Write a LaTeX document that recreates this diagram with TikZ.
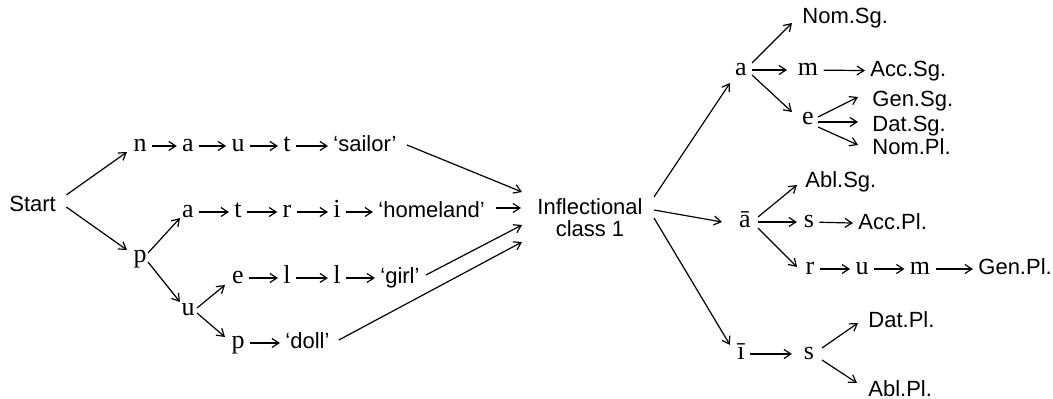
\documentclass[tikz,border=0pt]{standalone}
\usepackage{fontspec}
\setmainfont{Liberation Serif}
\newfontfamily\sansf{Liberation Sans}
\usetikzlibrary{arrows.meta}
\begin{document}
\begin{tikzpicture}[x=0.5pt,y=-0.5pt,
  lt/.style={font=\fontsize{13}{13}\selectfont, inner sep=0pt, text height=6pt, text depth=0pt, anchor=base},
  sf/.style={font=\sansf\fontsize{11}{11}\selectfont, inner sep=0pt, text height=6pt, text depth=0pt, anchor=base west},
  arr/.style={-{Straight Barb[length=3.5pt,width=4.5pt]}, line width=0.6pt},
  ch/.style={arr, shorten <=2.5pt, shorten >=2.5pt}]
\useasboundingbox (0,0) rectangle (1053,399);
% left part
\node[sf] (start) at (9,212) {Start};
\node[lt] (n1) at (140,152) {n};
\node[lt] (a1) at (188,152) {a};
\node[lt] (u1) at (238,152) {u};
\node[lt] (t1) at (287,152) {t};
\node[sf] (sailor) at (333,152) {‘sailor’};
\node[lt] (p1) at (140,263) {p};
\node[lt] (a2) at (188,218) {a};
\node[lt] (t2) at (238,218) {t};
\node[lt] (r2) at (287,218) {r};
\node[lt] (i2) at (337,218) {i};
\node[sf] (home) at (378,218) {‘homeland’};
\node[lt] (u3) at (188,316) {u};
\node[lt] (e3) at (238,284) {e};
\node[lt] (l3) at (287,284) {l};
\node[lt] (l4) at (337,284) {l};
\node[sf] (girl) at (380,284) {‘girl’};
\node[lt] (p4) at (238,349) {p};
\node[sf] (doll) at (285,349) {‘doll’};
\node[font=\sansf\fontsize{11}{11}\selectfont, align=center, inner sep=0pt] (infl) at (590,218) {Inflectional\\class 1};
% right part
\node[lt] (ra) at (741,76) {a};
\node[sf] (nomsg) at (802,24) {Nom.Sg.};
\node[lt] (rm) at (808,76) {m};
\node[sf] (accsg) at (870,77) {Acc.Sg.};
\node[lt] (re) at (808,125) {e};
\node[sf] (gensg) at (872,107) {Gen.Sg.};
\node[sf] (datsg) at (872,132) {Dat.Sg.};
\node[sf] (nompl) at (872,155) {Nom.Pl.};
\node[lt] (rab) at (745,228) {ā};
\node[sf] (ablsg) at (805,188) {Abl.Sg.};
\node[lt] (rs) at (809,228) {s};
\node[sf] (accpl) at (858,230) {Acc.Pl.};
\node[lt] (rr) at (810,275) {r};
\node[lt] (ru) at (862,275) {u};
\node[lt] (rm2) at (920,275) {m};
\node[sf] (genpl) at (978,275) {Gen.Pl.};
\node[lt] (ri) at (741,360) {ī};
\node[lt] (rs2) at (809,360) {s};
\node[sf] (datpl) at (868,328) {Dat.Pl.};
\node[sf] (ablpl) at (868,397) {Abl.Pl.};
% edges left
\draw[arr] ([shift={(10,-11)}]start.east) -- ([shift={(-13,6)}]n1.center);
\draw[arr] ([shift={(10,1)}]start.east) -- ([shift={(-13,-7)}]p1.center);
\draw[ch] (n1) -- (a1);
\draw[ch] (a1) -- (u1);
\draw[ch] (u1) -- (t1);
\draw[ch] (t1) -- (sailor);
\draw[arr] ([shift={(8,-4)}]p1.center) -- ([shift={(-8,6)}]a2.center);
\draw[ch] (a2) -- (t2);
\draw[ch] (t2) -- (r2);
\draw[ch] (r2) -- (i2);
\draw[ch] (i2) -- (home);
\draw[arr] ([shift={(8,5)}]p1.center) -- ([shift={(-8,-8)}]u3.center);
\draw[arr] ([shift={(9,-2)}]u3.center) -- ([shift={(-13,7)}]e3.center);
\draw[arr] ([shift={(9,3)}]u3.center) -- ([shift={(-13,-6)}]p4.center);
\draw[ch] (e3) -- (l3);
\draw[ch] (l3) -- (l4);
\draw[ch] (l4) -- (girl);
\draw[ch] (p4) -- (doll);
\draw[arr] ([shift={(10,-1)}]sailor.east) -- ([shift={(-15,-26)}]infl.west);
\draw[arr] ([shift={(11,-4)}]home.east) -- ([shift={(-16,-10)}]infl.west);
\draw[arr] ([shift={(6,-3)}]girl.east) -- ([shift={(-15,7)}]infl.west);
\draw[arr] ([shift={(9,-3)}]doll.east) -- ([shift={(-15,24)}]infl.west);
% edges right
\draw[arr] ([shift={(11,-21)}]infl.east) -- ([shift={(-11,13)}]ra.center);
\draw[arr] ([shift={(11,-8)}]infl.east) -- ([shift={(-23,0)}]rab.center);
\draw[arr] ([shift={(11,0)}]infl.east) -- ([shift={(-11,-9)}]ri.center);
\draw[arr] ([shift={(11,-7)}]ra.center) -- ([shift={(-10,5)}]nomsg.west);
\draw[arr] ([shift={(11,0)}]ra.center) -- ([shift={(-21,0)}]rm.center);
\draw[ch] (rm) -- (accsg);
\draw[arr] ([shift={(11,5)}]ra.center) -- ([shift={(-16,-7)}]re.center);
\draw[arr] ([shift={(10,-2)}]re.center) -- ([shift={(-14,-4)}]gensg.west);
\draw[arr] ([shift={(10,3)}]re.center) -- ([shift={(-14,-4)}]datsg.west);
\draw[arr] ([shift={(10,8)}]re.center) -- ([shift={(-14,-4)}]nompl.west);
\draw[arr] ([shift={(13,-5)}]rab.center) -- ([shift={(-8,3)}]ablsg.west);
\draw[arr] ([shift={(13,0)}]rab.center) -- ([shift={(-12,0)}]rs.center);
\draw[ch] (rs) -- (accpl);
\draw[arr] ([shift={(13,6)}]rab.center) -- ([shift={(-13,-2)}]rr.center);
\draw[ch] (rr) -- (ru);
\draw[ch] (ru) -- (rm2);
\draw[ch] (rm2) -- (genpl);
\draw[arr] ([shift={(9,0)}]ri.center) -- ([shift={(-17,0)}]rs2.center);
\draw[arr] ([shift={(13,-6)}]rs2.center) -- ([shift={(-10,1)}]datpl.west);
\draw[arr] ([shift={(13,6)}]rs2.center) -- ([shift={(-11,-8)}]ablpl.west);
\end{tikzpicture}
\end{document}
